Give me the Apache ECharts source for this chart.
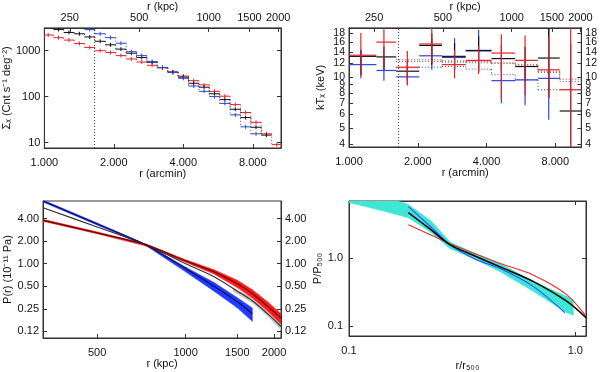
<!DOCTYPE html>
<html>
<head>
<meta charset="utf-8">
<script src="https://cdn.jsdelivr.net/npm/echarts@6/dist/echarts.min.js"></script>
<style>
  html, body { margin: 0; padding: 0; background: #fff; }
  #chart { width: 600px; height: 372px; }
</style>
</head>
<body>
<div id="chart"></div>
<script>
// ---- panel 1: surface brightness, bins in arcmin ----
const sbEdges = [0.986, 1.094, 1.213, 1.346, 1.493, 1.656, 1.838, 2.038, 2.261, 2.508, 2.782, 3.086,
  3.423, 3.797, 4.212, 4.672, 5.183, 5.749, 6.377, 7.074, 7.846, 8.704, 9.655, 10.71];
const sbBlack = [null, 2880, 2490, 2330, 1990, 1600, 1340, 1080, 880, 710, 560, 430, 340, 265, 195, 160, 115, 86, 53, 35, 21.5, 14.5, null];
const sbBlue = [null, null, null, null, 2880, 2330, 1920, 1450, 950, 780, 580, 430, 335, 250, 170, 130, 100, 71, 40, 22, 15.5, null, null];
const sbRed = [2190, 1920, 1700, 1430, 1175, 1000, 910, 780, 660, 565, 480, 420, 345, 280, 222, 180, 130, 102, 67, 45, 27.5, 15.5, 9];

// ---- panel 2: temperature crosses ----
const ktEdges = [1.0, 1.318, 1.609, 2.03, 2.554, 3.244, 4.205, 5.341, 6.717, 8.366, 10.42];
const ktMid = [1.127, 1.422, 1.801, 2.304, 2.898, 3.693, 4.646, 5.90, 7.49, 9.34];
const ktRed = [13.4, 16.0, 11.4, 15.6, 11.8, 12.5, 13.8, 12.5, 11.0, 8.4];
const ktRedLo = [10.2, 11.2, 8.9, 12.1, 9.8, 10.4, 7.4, 7.8, 7.5, 3.5];
const ktRedHi = [18.1, 19.8, 14.2, 19.8, 14.4, 15.1, 17.8, 17.5, 17.3, 19.8];
const ktBlack = [13.2, 13.1, 10.8, 15.3, 13.2, 14.3, 12.8, 11.5, 12.9, 6.3];
const ktBlackLo = [10.3, 11.0, 9.5, 11.8, 11.0, 10.7, 10.9, 9.4, 7.5, 3.5];
const ktBlackHi = [14.3, 15.1, 12.5, 18.0, 15.8, 17.3, 15.4, 15.0, 19.8, 15.7];
const ktBlue = [11.8, 10.9, 10.0, 13.3, 13.0, 14.2, 9.5, 9.6, 9.8, null];
const ktBlueLo = [9.8, 9.5, 9.0, 11.0, 11.0, 10.9, 7.0, 6.8, 5.6, null];
const ktBlueHi = [14.5, 13.1, 11.3, 16.7, 16.9, 18.9, 12.2, 11.6, 19.8, null];
// dotted model steps, bins 2..9
const mdRed = [12.6, 12.6, 12.4, 12.3, 12.1, 11.6, 10.8, 9.7];
const mdBlack = [12.3, 12.3, 12.2, 12.1, 12.0, 11.8, 10.6, 9.4];
const mdBlue = [11.3, 11.4, 11.5, 11.1, 10.3, 9.6, 8.4, 8.4];

// ---- panel 3: pressure (kpc) ----
const pBlueR = [327, 500, 737, 1000, 1250, 1500, 1687];
const pBlue = [6.9, 3.4, 1.76, 0.86, 0.50, 0.31, 0.215];
const pBlueLo = [6.7, 3.3, 1.72, 0.78, 0.43, 0.257, 0.17];
const pBlueHi = [7.1, 3.5, 1.80, 0.90, 0.56, 0.35, 0.255];
const pR = [327, 500, 737, 1000, 1250, 1500, 1687, 1900, 2112];
const pRed = [3.8, 2.58, 1.77, 1.09, 0.78, 0.54, 0.40, 0.27, 0.19];
const pRedLo = [3.7, 2.52, 1.72, 1.05, 0.73, 0.48, 0.35, 0.235, 0.155];
const pRedHi = [3.92, 2.66, 1.82, 1.13, 0.83, 0.60, 0.45, 0.31, 0.215];
const pBlack = [5.6, 3.1, 1.78, 1.0, 0.67, 0.43, 0.32, 0.215, 0.145];
const pGreyR = [1450, 1687, 1900, 2112];
const pGreyLo = [0.43, 0.30, 0.20, 0.13];
const pGreyHi = [0.47, 0.36, 0.26, 0.185];

// ---- panel 4: scaled pressure ----
const sBandX = [0.1, 0.142, 0.183, 0.23, 0.28, 0.36, 0.466, 0.654, 0.919, 0.98];
const sBandLo = [6.5, 4.9, 3.9, 2.38, 1.37, 0.96, 0.627, 0.321, 0.157, 0.144];
const sBandHi = [8.5, 8.0, 6.1, 3.52, 1.71, 1.16, 0.83, 0.449, 0.272, 0.244];
const sBlueX = [0.183, 0.23, 0.28, 0.36, 0.466, 0.654, 0.9];
const sBlue = [5.67, 2.85, 1.56, 0.97, 0.70, 0.38, 0.157];
const sX = [0.183, 0.23, 0.28, 0.36, 0.466, 0.654, 0.919, 1.115];
const sBlack = [4.64, 2.6, 1.56, 1.07, 0.74, 0.45, 0.23, 0.133];
const sRed = [3.08, 2.18, 1.62, 1.16, 0.83, 0.56, 0.288, 0.14];

// tick labels
const kpcTicks = [250, 500, 1000, 1500, 2000];
const ktTicks = [4, 5, 6, 7, 8, 9, 10, 12, 14, 16, 18];
const pKpcTicks = [500, 1000, 1500, 2000];
const kpcPerArcmin = 194;
const innerLine = 1.64;

const BLACK = "#111", BLUE = "#2f45d8", RED = "#e3232b";
const font = { fontFamily: "Liberation Sans, Arial, sans-serif", fontSize: 11, color: "#111" };
const tick = { inside: true, length: 4, lineStyle: { color: "#333" } };
const line = { show: true, onZero: false, lineStyle: { color: "#333" } };
const noSplit = { show: false };
const lg = (v) => Math.log10(v);
const fromLg = (v) => String(Math.round(Math.pow(10, v)));

function stepData(edges, vals) {
  const out = [];
  vals.forEach((v, i) => {
    if (v == null) return;
    const n = vals[i + 1];
    out.push([edges[i], edges[i + 1], v, n == null ? 0 : n]);
  });
  return out;
}
function stepRender(color, dashed) {
  return function (params, api) {
    const a = api.coord([api.value(0), api.value(2)]);
    const b = api.coord([api.value(1), api.value(2)]);
    const kids = [{ type: "line", shape: { x1: a[0], y1: a[1], x2: b[0], y2: b[1] },
      style: { stroke: color, lineWidth: 1, lineDash: dashed ? [1, 2] : null } }];
    if (!dashed) {
      const m = (a[0] + b[0]) / 2;
      kids.push({ type: "line", shape: { x1: m, y1: a[1] - 2, x2: m, y2: a[1] + 2 }, style: { stroke: color, lineWidth: 1 } });
    }
    const n = api.value(3);
    if (n > 0) {
      const c = api.coord([api.value(1), n]);
      kids.push({ type: "line", shape: { x1: b[0], y1: b[1], x2: c[0], y2: c[1] },
        style: { stroke: color, lineWidth: 1, lineDash: [1, 2] } });
    }
    return { type: "group", children: kids };
  };
}
function stepSeries(edges, vals, color, dashed, xi, yi) {
  return { type: "custom", xAxisIndex: xi, yAxisIndex: yi, clip: true,
    renderItem: stepRender(color, dashed), encode: { x: [0, 1], y: 2 }, data: stepData(edges, vals) };
}
function crossSeries(v, lo, hi, color) {
  const data = [];
  v.forEach((t, i) => {
    if (t == null) return;
    data.push([ktEdges[i], ktEdges[i + 1], ktMid[i], t, lo[i], hi[i]]);
  });
  return { type: "custom", xAxisIndex: 2, yAxisIndex: 2, clip: true, encode: { x: [0, 1], y: 3 }, data: data,
    renderItem: function (params, api) {
      const a = api.coord([api.value(0), api.value(3)]);
      const b = api.coord([api.value(1), api.value(3)]);
      const t = api.coord([api.value(2), api.value(5)]);
      const u = api.coord([api.value(2), api.value(4)]);
      return { type: "group", children: [
        { type: "line", shape: { x1: a[0], y1: a[1], x2: b[0], y2: b[1] }, style: { stroke: color, lineWidth: 1.2 } },
        { type: "line", shape: { x1: t[0], y1: t[1], x2: u[0], y2: u[1] }, style: { stroke: color, lineWidth: 1.2 } }
      ] };
    } };
}
function bandSeries(xs, lo, hi, color, xi, yi) {
  const data = [];
  for (let i = 0; i < xs.length - 1; i++) data.push([xs[i], lo[i], hi[i], xs[i + 1], lo[i + 1], hi[i + 1]]);
  return { type: "custom", xAxisIndex: xi, yAxisIndex: yi, clip: true, encode: { x: [0, 3], y: [1, 2] }, data: data,
    renderItem: function (params, api) {
      const p = [
        api.coord([api.value(0), api.value(2)]), api.coord([api.value(3), api.value(5)]),
        api.coord([api.value(3), api.value(4)]), api.coord([api.value(0), api.value(1)])
      ];
      return { type: "polygon", shape: { points: p }, style: { fill: color, stroke: color, lineWidth: 0.6 } };
    } };
}
function curve(xs, ys, color, width, xi, yi) {
  return { type: "line", xAxisIndex: xi, yAxisIndex: yi, smooth: 0.3, showSymbol: false, silent: true,
    lineStyle: { color: color, width: width }, data: xs.map((x, i) => [x, ys[i]]) };
}
const vline = { silent: true, symbol: "none", label: { show: false },
  lineStyle: { color: "#444", type: [1, 2], width: 1 }, data: [{ xAxis: innerLine }] };

function arcAxis(grid, max) {
  return { type: "log", logBase: 2, gridIndex: grid, position: "bottom", min: 1, max: max,
    axisLine: line, axisTick: tick, splitLine: noSplit,
    axisLabel: Object.assign({ margin: 9, showMaxLabel: false, formatter: (v) => v.toFixed(3) }, font),
    name: "r (arcmin)", nameLocation: "middle", nameGap: 20, nameTextStyle: font };
}
function kpcAxis(grid, max) {
  const vals = kpcTicks.map(lg);
  return { type: "value", gridIndex: grid, position: "top", min: lg(kpcPerArcmin), max: lg(max * kpcPerArcmin),
    axisLine: line, axisTick: Object.assign({ customValues: vals }, tick), splitLine: noSplit,
    axisLabel: Object.assign({ margin: 4, customValues: vals, formatter: fromLg, showMaxLabel: true }, font),
    name: "r (kpc)", nameLocation: "middle", nameGap: 15, nameTextStyle: font };
}
// temperature ticks are tight, so alternate ones go on a twin axis to keep every label
function ktLabelAxis(pos, parity, withName) {
  const vals = ktTicks.filter((v, i) => i % 2 === parity).map(lg);
  return { type: "value", gridIndex: 1, position: pos, min: lg(3.87), max: lg(19.4),
    axisLine: line, axisTick: Object.assign({ customValues: vals }, tick), splitLine: noSplit,
    axisLabel: Object.assign({}, font, { margin: 4, customValues: vals, formatter: fromLg,
      showMinLabel: true, showMaxLabel: true, fontSize: 10.5 }),
    name: withName ? "kTₓ (keV)" : "", nameLocation: "middle", nameGap: 23, nameTextStyle: font };
}
function pAxis(pos) {
  return { type: "log", logBase: 2, gridIndex: 2, position: pos, min: 0.1016, max: 6.9,
    axisLine: line, axisTick: tick, splitLine: noSplit,
    axisLabel: Object.assign({ margin: 4, showMinLabel: false, showMaxLabel: false,
      formatter: (v) => (Math.floor(v * 100 + 1e-6) / 100).toFixed(2) }, font),
    name: pos === "left" ? "P(r) (10⁻¹¹ Pa)" : "", nameLocation: "middle", nameGap: 28, nameTextStyle: font };
}

const chart = echarts.init(document.getElementById("chart"), null, { renderer: "canvas" });
chart.setOption({
  animation: false,
  backgroundColor: "#fff",
  grid: [
    { left: 44, top: 25, width: 237, height: 123, show: true, borderColor: "#333", borderWidth: 1 },
    { left: 349, top: 25, width: 235, height: 122, show: true, borderColor: "#333", borderWidth: 1 },
    { left: 43, top: 201, width: 238, height: 137, show: true, borderColor: "#333", borderWidth: 1 },
    { left: 349, top: 201, width: 237, height: 137, show: true, borderColor: "#333", borderWidth: 1 }
  ],
  xAxis: [
    arcAxis(0, 10.6),
    kpcAxis(0, 10.6),
    arcAxis(1, 10.4),
    kpcAxis(1, 10.4),
    { type: "log", gridIndex: 2, min: 327, max: 2112, show: false },
    { type: "value", gridIndex: 2, position: "bottom", min: lg(327), max: lg(2112),
      axisLine: line, axisTick: Object.assign({ customValues: pKpcTicks.map(lg) }, tick), splitLine: noSplit,
      axisLabel: Object.assign({ margin: 9, customValues: pKpcTicks.map(lg), formatter: fromLg, showMaxLabel: true }, font),
      name: "r (kpc)", nameLocation: "middle", nameGap: 20, nameTextStyle: font },
    { type: "log", gridIndex: 3, position: "bottom", min: 0.1, max: 1.115,
      axisLine: line, axisTick: tick, splitLine: noSplit,
      axisLabel: Object.assign({ margin: 9, showMaxLabel: false, formatter: (v) => v.toFixed(1) }, font),
      name: "r/r₅₀₀", nameLocation: "middle", nameGap: 24, nameTextStyle: font },
    { type: "log", gridIndex: 3, position: "top", min: 0.1, max: 1.115,
      axisLine: line, axisTick: tick, splitLine: noSplit, axisLabel: { show: false } }
  ],
  yAxis: [
    { type: "log", gridIndex: 0, position: "left", min: 7.6, max: 3130,
      axisLine: line, axisTick: tick, splitLine: noSplit,
      axisLabel: Object.assign({ margin: 4, showMinLabel: false, showMaxLabel: false, formatter: (v) => String(Math.round(v)) }, font),
      name: "Σₓ (Cnt s⁻¹ deg⁻²)", nameLocation: "middle", nameGap: 27, nameTextStyle: font },
    { type: "log", gridIndex: 0, position: "right", min: 7.6, max: 3130,
      axisLine: line, axisTick: tick, splitLine: noSplit, axisLabel: { show: false } },
    { type: "log", gridIndex: 1, min: 3.87, max: 19.4, show: false },
    ktLabelAxis("left", 0, true),
    ktLabelAxis("left", 1, false),
    ktLabelAxis("right", 0, false),
    ktLabelAxis("right", 1, false),
    pAxis("left"),
    pAxis("right"),
    { type: "log", gridIndex: 3, position: "left", min: 0.0716, max: 6.86,
      axisLine: line, axisTick: tick, splitLine: noSplit,
      axisLabel: Object.assign({ margin: 6, showMinLabel: false, showMaxLabel: false, formatter: (v) => v.toFixed(1) }, font),
      name: "P/P₅₀₀", nameLocation: "middle", nameGap: 22, nameTextStyle: font },
    { type: "log", gridIndex: 3, position: "right", min: 0.0716, max: 6.86,
      axisLine: line, axisTick: tick, splitLine: noSplit, axisLabel: { show: false } }
  ],
  series: [
    // panel 1
    Object.assign(stepSeries(sbEdges, sbRed, RED, false, 0, 0), { markLine: vline }),
    stepSeries(sbEdges, sbBlack, BLACK, false, 0, 0),
    stepSeries(sbEdges, sbBlue, BLUE, false, 0, 0),
    // panel 2
    Object.assign(stepSeries(ktEdges.slice(2), mdBlue, BLUE, true, 2, 2), { markLine: vline }),
    stepSeries(ktEdges.slice(2), mdBlack, "#555", true, 2, 2),
    stepSeries(ktEdges.slice(2), mdRed, RED, true, 2, 2),
    crossSeries(ktBlue, ktBlueLo, ktBlueHi, BLUE),
    crossSeries(ktBlack, ktBlackLo, ktBlackHi, BLACK),
    crossSeries(ktRed, ktRedLo, ktRedHi, RED),
    // panel 3
    bandSeries(pBlueR, pBlueLo, pBlueHi, "#1f3cff", 4, 7),
    bandSeries(pGreyR, pGreyLo, pGreyHi, "#c8c8c8", 4, 7),
    bandSeries(pR, pRedLo, pRedHi, "#ff1a1a", 4, 7),
    curve(pR, pBlack, "#333", 1.2, 4, 7),
    curve(pBlueR, pBlue, "#101060", 1.3, 4, 7),
    curve(pR, pRed, "#6a0808", 1.3, 4, 7),
    // panel 4
    bandSeries(sBandX, sBandLo, sBandHi, "#40e6d4", 6, 9),
    curve(sBlueX, sBlue, "#3348ff", 1.1, 6, 9),
    curve(sX, sRed, "#f02828", 1.1, 6, 9),
    curve(sX, sBlack, "#000", 1.5, 6, 9)
  ]
});
</script>
</body>
</html>
